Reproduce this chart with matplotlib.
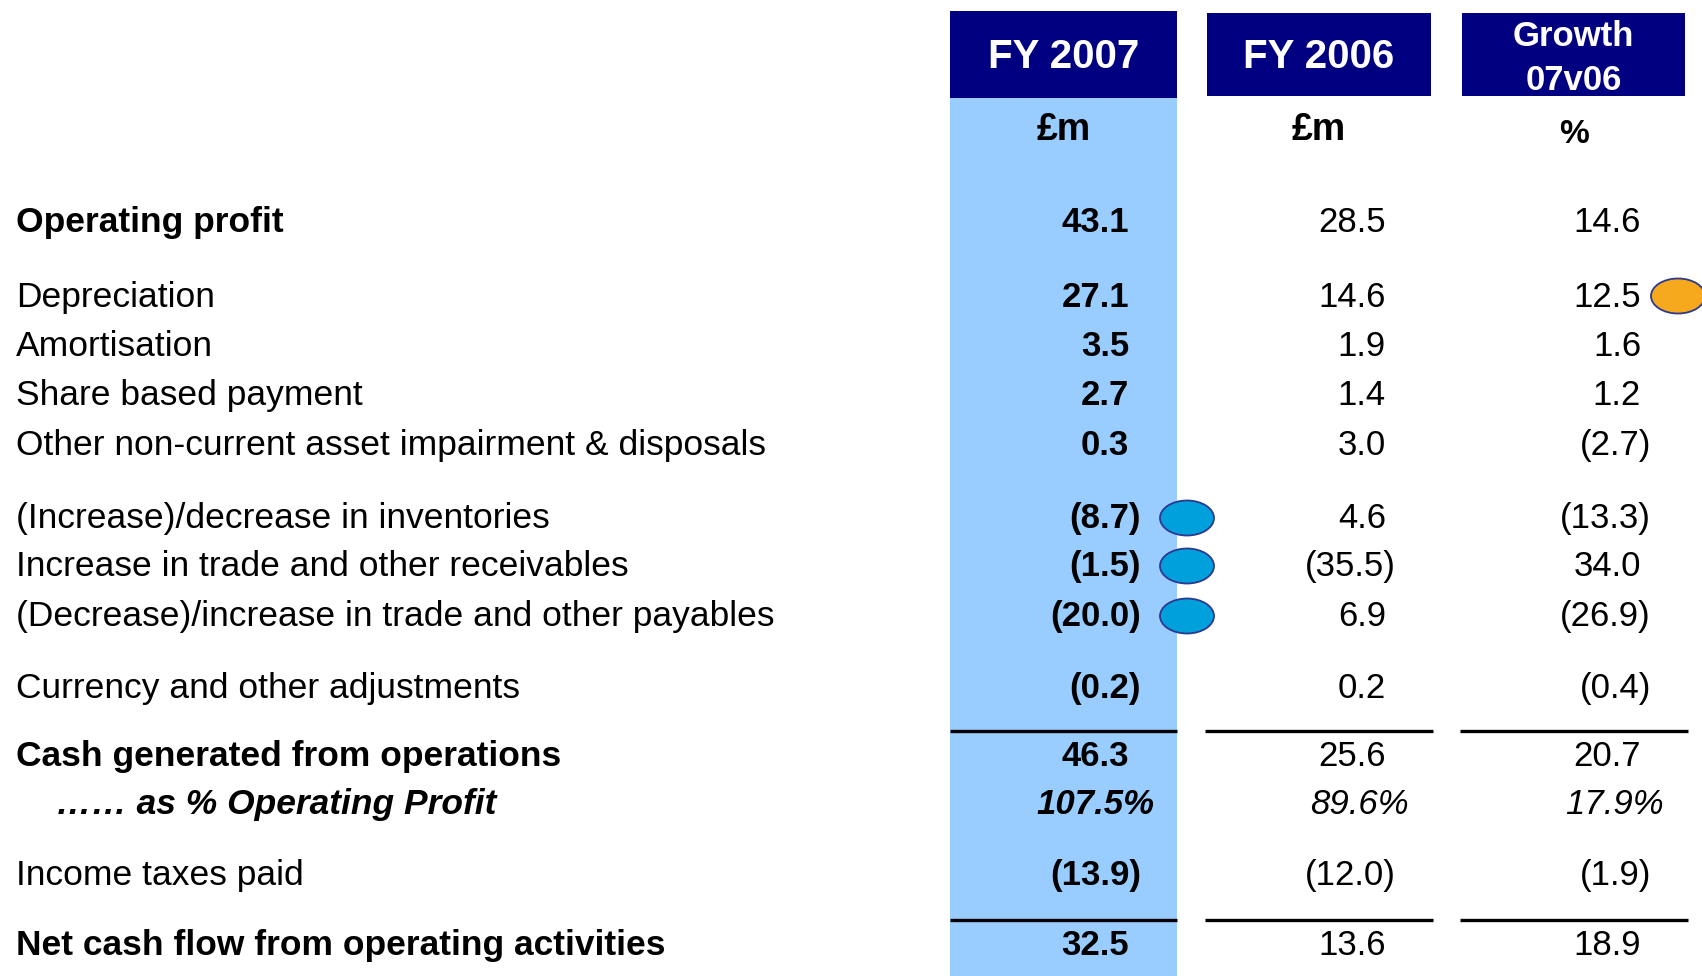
import matplotlib
matplotlib.use("Agg")
import matplotlib.pyplot as plt
from matplotlib.patches import Rectangle, Ellipse

plt.rcParams['font.family'] = ['Liberation Sans', 'DejaVu Sans']

# table content
row_labels = [
    "Operating profit",
    "Depreciation",
    "Amortisation",
    "Share based payment",
    "Other non-current asset impairment & disposals",
    "(Increase)/decrease in inventories",
    "Increase in trade and other receivables",
    "(Decrease)/increase in trade and other payables",
    "Currency and other adjustments",
    "Cash generated from operations",
    "\u2026\u2026 as % Operating Profit",
    "Income taxes paid",
    "Net cash flow from operating activities",
]
fy2007 = [43.1, 27.1, 3.5, 2.7, 0.3, -8.7, -1.5, -20.0, -0.2, 46.3, 107.5, -13.9, 32.5]
fy2006 = [28.5, 14.6, 1.9, 1.4, 3.0, 4.6, -35.5, 6.9, 0.2, 25.6, 89.6, -12.0, 13.6]
growth = [14.6, 12.5, 1.6, 1.2, -2.7, -13.3, 34.0, -26.9, -0.4, 20.7, 17.9, -1.9, 18.9]
col_titles = ["FY 2007", "FY 2006", "Growth\n07v06"]
col_units = ["\u00a3m", "\u00a3m", "%"]
bold_rows = [0, 9, 12]
pct_row = 10
blue_marks = [5, 6, 7]     # rows flagged in FY 2007 column
orange_marks = [1]         # rows flagged in growth column

# layout (pixels of a 1702x976 canvas)
row_y = [220, 295, 344, 393, 443, 516, 564, 614, 686, 754, 802, 873, 943]
col_box = [(950, 1177), (1207, 1431), (1462, 1685)]
digit_x = [1129, 1386, 1641]
paren_x = [1141, 1396, 1651]
rule_y = [731, 920]
rule_x = [(950, 1177), (1205, 1433), (1460, 1688)]
navy = "#000080"
light_blue = "#99CCFF"

fig = plt.figure(figsize=(17.02, 9.76), dpi=100)
ax = fig.add_axes([0, 0, 1, 1])
ax.set_xlim(0, 1702)
ax.set_ylim(976, 0)
ax.axis("off")

# highlighted FY 2007 column
x0, x1 = col_box[0]
ax.add_patch(Rectangle((x0, 98), x1 - x0, 976 - 98, color=light_blue, lw=0))

# header boxes
tops = [11, 13, 13]
bottoms = [98, 96, 96]
for i, (a, b) in enumerate(col_box):
    ax.add_patch(Rectangle((a, tops[i]), b - a, bottoms[i] - tops[i], color=navy, lw=0))
    cx = (a + b) / 2
    if "\n" in col_titles[i]:
        l1, l2 = col_titles[i].split("\n")
        ax.text(cx, 46, l1, color="white", fontsize=25, fontweight="bold", ha="center", va="baseline")
        ax.text(cx, 90, l2, color="white", fontsize=25, fontweight="bold", ha="center", va="baseline")
    else:
        ax.text(cx, 68, col_titles[i], color="white", fontsize=29, fontweight="bold", ha="center", va="baseline")
    unit_y = 140 if col_units[i] != "%" else 143
    ax.text(cx, unit_y, col_units[i], color="black", fontsize=27 if col_units[i] != "%" else 24,
            fontweight="bold", ha="center", va="baseline")

# row labels
for r, lab in enumerate(row_labels):
    weight = "bold" if r in bold_rows or r == pct_row else "normal"
    style = "italic" if r == pct_row else "normal"
    x = 56 if r == pct_row else 16
    ax.text(x, row_y[r] + 12, lab, fontsize=25.5, fontweight=weight, fontstyle=style,
            ha="left", va="baseline")


def fmt(v):
    return f"({abs(v):.1f})" if v < 0 else f"{v:.1f}"


for c, vals in enumerate([fy2007, fy2006, growth]):
    weight = "bold" if c == 0 else "normal"
    for r, v in enumerate(vals):
        if r == pct_row:
            ax.text(paren_x[c] + 13, row_y[r] + 12, f"{v:.1f}%", fontsize=25, fontweight=weight,
                    fontstyle="italic", ha="right", va="baseline")
        else:
            x = paren_x[c] if v < 0 else digit_x[c]
            ax.text(x, row_y[r] + 12, fmt(v), fontsize=25, fontweight=weight,
                    ha="right", va="baseline")

# total rules
for y in rule_y:
    for a, b in rule_x:
        ax.plot([a, b], [y, y], color="black", lw=2.4, solid_capstyle="butt")

# flag ovals
for r in blue_marks:
    ax.add_patch(Ellipse((1187, row_y[r] + 2), 54, 35, facecolor="#00A0DC",
                         edgecolor="#2B3990", lw=1.3))
for r in orange_marks:
    ax.add_patch(Ellipse((1678, row_y[r] + 1), 54, 35, facecolor="#F7A91D",
                         edgecolor="#2B3990", lw=1.3))

fig.savefig("out.png", dpi=100)
